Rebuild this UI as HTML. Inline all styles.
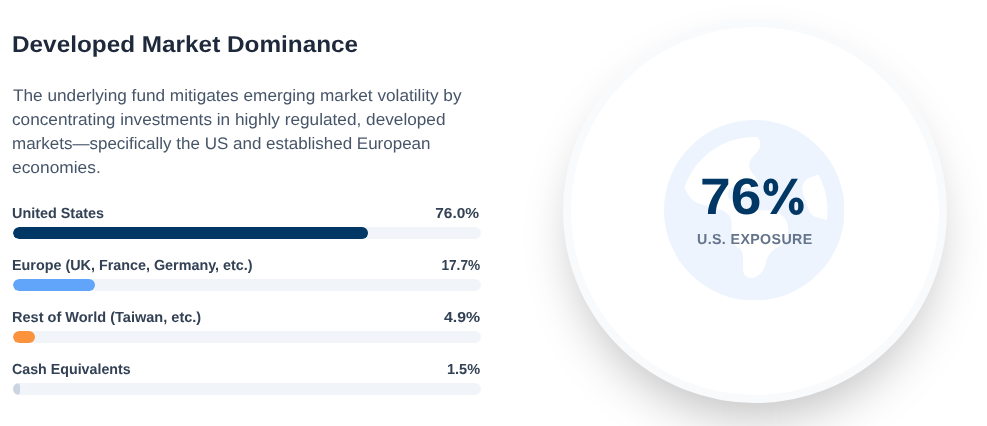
<!DOCTYPE html>
<html>
<head>
<meta charset="utf-8">
<style>
  html, body { margin: 0; padding: 0; background: #ffffff; }
  body { width: 987px; height: 426px; position: relative; overflow: hidden;
         font-family: "Liberation Sans", sans-serif; text-rendering: geometricPrecision; }
  .abs { position: absolute; white-space: nowrap; }
  #wrap { position:absolute; left:0; top:0; width:987px; height:426px; will-change: transform; }
  .title { font-size: 23px; line-height: 28px; font-weight: 700; color: #1e293b; }
  .p { font-size: 16.7px; line-height: 24px; color: #475569; }
  .lbl { font-size: 14.6px; line-height: 20px; font-weight: 700; color: #334155; }
  .val { font-size: 14.5px; line-height: 20px; font-weight: 700; color: #334155; }
  .track { position: absolute; left: 13px; width: 468px; height: 12px; border-radius: 6px; background: #f1f5f9; overflow: hidden; }
  .fill { height: 12px; border-radius: 6px; }
  .circle { position: absolute; left: 563px; top: 19px; width: 384px; height: 384px; box-sizing: border-box;
            border: 8px solid #f8fafc; border-radius: 50%; background: #ffffff;
            box-shadow: 0 25px 50px -12px rgba(0,0,0,0.25); }
  .globe { position: absolute; left: 663.8px; top: 119.5px; width: 180.5px; height: 180.5px; }
  .big { font-size: 51.3px; line-height: 56px; font-weight: 700; color: #003764; }
  .sub { font-size: 14.5px; line-height: 20px; font-weight: 700; color: #64748b; letter-spacing: 0.4px; }
</style>
</head>
<body>
<div id="wrap">
  <div class="abs title" id="title" style="top:30px;left:12.34px;transform-origin:0 50%;transform:scaleX(1.0579)">Developed Market Dominance</div>

  <div class="abs p" id="p1" style="top:84px;left:12.57px;transform-origin:0 50%;transform:scaleX(1.0311)">The underlying fund mitigates emerging market volatility by</div>
  <div class="abs p" id="p2" style="top:108px;left:12.32px;transform-origin:0 50%;transform:scaleX(1.0316)">concentrating investments in highly regulated, developed</div>
  <div class="abs p" id="p3" style="top:132px;left:12.25px;transform-origin:0 50%;transform:scaleX(1.0185)">markets—specifically the US and established European</div>
  <div class="abs p" id="p4" style="top:156px;left:12.21px;transform-origin:0 50%;transform:scaleX(1.0403)">economies.</div>

  <div class="abs lbl" id="l1" style="top:204px;left:12.16px;transform-origin:0 50%;transform:scaleX(0.9862)">United States</div>
  <div class="abs val" id="v1" style="top:204px;right:507.6px;transform-origin:100% 50%;transform:scaleX(1.0664)">76.0%</div>
  <div class="track" style="top:227px"><div class="fill" style="width:355px;background:#003764"></div></div>

  <div class="abs lbl" id="l2" style="top:256px;left:12.45px;transform-origin:0 50%;transform:scaleX(0.9834)">Europe (UK, France, Germany, etc.)</div>
  <div class="abs val" id="v2" style="top:256px;right:507.25px;transform-origin:100% 50%;transform:scaleX(0.9405)">17.7%</div>
  <div class="track" style="top:279px"><div class="fill" style="width:82px;background:#60a5fa"></div></div>

  <div class="abs lbl" id="l3" style="top:308px;left:12.3px;transform-origin:0 50%;transform:scaleX(0.9957)">Rest of World (Taiwan, etc.)</div>
  <div class="abs val" id="v3" style="top:308px;right:506.94px;transform-origin:100% 50%;transform:scaleX(1.0914)">4.9%</div>
  <div class="track" style="top:331px"><div class="fill" style="width:22px;background:#fb923c"></div></div>

  <div class="abs lbl" id="l4" style="top:360px;left:12.35px;transform-origin:0 50%;transform:scaleX(0.9756)">Cash Equivalents</div>
  <div class="abs val" id="v4" style="top:360px;right:507.17px;transform-origin:100% 50%;transform:scaleX(1.0005)">1.5%</div>
  <div class="track" style="top:383px"><div class="fill" style="width:6.8px;background:#cbd5e1"></div></div>

  <div class="circle"></div>
  <svg class="globe" viewBox="0 0 512 512"><path fill="#dbeafe" fill-opacity="0.5" d="M57.7 193l9.4 16.4c8.3 14.5 21.9 25.2 38 29.8L163 255.700c17.200 4.900 29 20.600 29 38.500v39.900c0 11 6.200 21 16 25.900s16 14.900 16 25.900v39c0 15.600 14.900 26.900 29.900 22.600c16.100-4.600 28.600-17.500 32.700-33.800l2.800-11.200c4.200-16.900 15.200-31.400 30.300-40l8.100-4.600c15-8.500 24.200-24.500 24.200-41.700v-8.300c0-12.700-5.100-24.900-14.100-33.900l-3.900-3.900c-9-9-21.200-14.100-33.900-14.100H257c-11.100 0-22.100-2.900-31.800-8.400l-34.500-19.700c-4.300-2.500-7.600-6.500-9.200-11.200c-3.200-9.600 1.100-20 10.200-24.500l5.900-3c6.600-3.300 14.300-3.900 21.300-1.500l23.200 7.700c8.200 2.700 17.200-.4 21.900-7.500c4.700-7 4.200-16.300-1.200-22.800l-13.600-16.300c-10-12-9.900-29.500 .3-41.300l15.700-18.300c8.800-10.300 10.200-25 3.500-36.700l-2.400-4.200c-3.500-.2-6.900-.3-10.400-.3C163.100 48 84.400 108.900 57.700 193zM464 256c0-36.800-9.600-71.400-26.400-101.500L412 164.800c-15.700 6.300-23.800 23.800-18.500 39.800l16.900 50.700c3.500 10.400 12 18.300 22.600 20.900l29.100 7.300c1.200-9 1.800-18.200 1.800-27.500zM0 256a256 256 0 1 1 512 0A256 256 0 1 1 0 256z"/></svg>
  <div class="abs big" id="b1" style="top:169px;left:700.4px;transform-origin:0 50%;transform:scaleX(1.0749)">76</div>
  <svg style="position:absolute;left:760px;top:174px;width:50px;height:46px" viewBox="760 174 50 46">
    <g fill="#003764" fill-rule="evenodd">
      <path d="M763.500 186.200a7.350 7.700 0 0 1 14.700 0v2.100a7.350 7.700 0 0 1 -14.700 0zM768.900 186.200a1.950 3.300 0 0 1 3.900 0v2.100a1.950 3.300 0 0 1 -3.900 0z"/>
      <path d="M788.900 205.100a7.350 7.700 0 0 1 14.700 0v2.100a7.350 7.700 0 0 1 -14.700 0zM794.300 205.100a1.950 3.300 0 0 1 3.900 0v2.100a1.950 3.300 0 0 1 -3.900 0z"/>
      <path d="M791.500 178.700h6.400l-21.400 35.200h-6.400z"/>
    </g>
  </svg>
  <div class="abs sub" id="sub" style="top:230px;left:696.8px;transform-origin:0 50%;transform:scaleX(0.9792)">U.S. EXPOSURE</div>
</div>
</body>
</html>
